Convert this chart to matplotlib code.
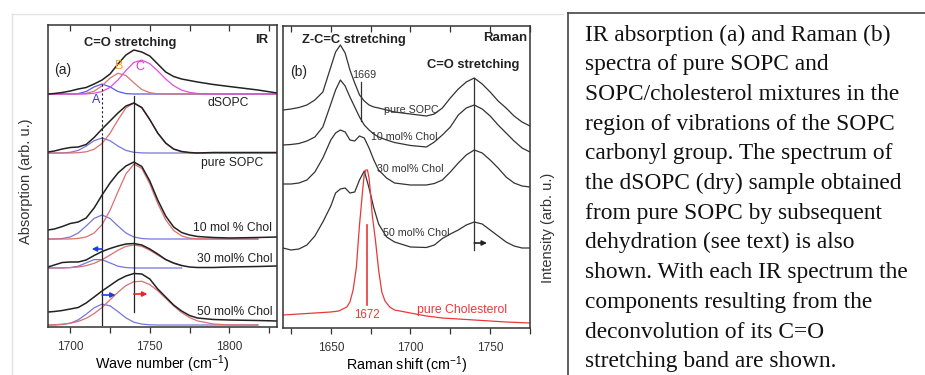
import numpy as np
import matplotlib.pyplot as plt
from matplotlib.lines import Line2D
from matplotlib.ticker import MultipleLocator

plt.rcParams['font.family'] = ['Liberation Sans', 'DejaVu Sans']
plt.rcParams['mathtext.fontset'] = 'custom'
plt.rcParams['mathtext.rm'] = 'Liberation Sans'

nan = np.nan

# ---- IR absorption (panel a): wavenumbers and band heights above each trace's baseline
ir_wn = [1686, 1690, 1695, 1700, 1705, 1710, 1715, 1720, 1725, 1730, 1735, 1740,
         1745, 1750, 1755, 1760, 1765, 1770, 1775, 1780, 1790, 1800, 1818, 1830]

ir_dsopc = [0, 0.5, 1.5, 3, 5, 6.5, 10, 14, 20, 30, 39, 44,
            42, 38, 30, 22, 17.5, 15, 13.5, 12, 9.5, 7.5, 4, 1]
dsopc_a = [0, 0, 0, 0, 0.4, 2.5, 7.1, 10, 7.1, 2.5, 0.4, 0,
           0, 0, 0, 0, 0, 0, 0, 0, 0, 0, 0, 0]
dsopc_b = [0, 0, 0, 0, 0, 0.7, 2.8, 8.2, 15.9, 20.8, 18.5, 11.2,
           4.5, 1.3, 0.2, 0, 0, 0, 0, 0, 0, 0, 0, 0]
dsopc_c = [0, 0, 0, 0, 0, 0, 0.75, 2.5, 6.6, 14, 23.5, 31.6,
           33.9, 30.3, 23.1, 15, 8.3, 3.9, 1.6, 0.5, 0, 0, 0, 0]

ir_pure = [1, 2, 4, 5.5, 6, 8.5, 15.5, 24, 32, 40, 47, 50,
           45.5, 33.5, 20, 10, 4, 1.5, 0.5, 0, 0.5, 0.5, 0.5, 0.5]
pure_red = [0, 0, 0, 0, 0.3, 1.2, 3.8, 9.6, 19.7, 33.1, 45.1, 50,
            45.1, 33.1, 19.7, 9.6, 3.8, 1.2, 0.3, 0, 0, 0, 0, 0]
pure_blue = [0, 0, 0.1, 0.7, 2.6, 6.9, 12.3, 15, 12.3, 6.9, 2.6, 0.7,
             0.1, 0, 0, 0, 0, 0, 0, 0, 0, 0, 0, 0]

ir_chol10 = [9, 10, 12.5, 15.5, 17, 21, 31, 44, 56, 66, 73, 77,
             72.5, 58, 39, 23, 12, 6.5, 4, 2.5, 1.5, 1, 1.5, 2]
chol10_red = [0, 0, 0, 0, 0.6, 2.0, 6, 14.3, 28.7, 47.3, 65.1, 74.9,
              70.5, 55.2, 35.6, 19.2, 8.5, 3.1, 0.9, 0.2, 0, 0, 0, nan]
chol10_blue = [0, 0, 0.5, 2, 6, 13, 20.6, 24, 20.6, 13, 6, 2,
               0.5, 0, 0, 0, 0, 0, 0, 0, 0, 0, 0, nan]

ir_chol30 = [1, 3, 5.5, 6, 6, 8, 12.5, 16.5, 19.5, 22, 24, 24.5,
             23, 19, 14, 8.5, 5, 2.5, 1, 0.5, 0.5, 1, 1.5, 2]
chol30_red = [0, 0.1, 0.2, 0.4, 1, 2.3, 4.7, 8.3, 12.9, 17.8, 21.6, 23,
              21.6, 17.8, 12.9, 8.3, 4.7, 2.3, nan, nan, nan, nan, nan, nan]
chol30_blue = [0, 0, 0, 0.4, 1.8, 5.1, 8.4, 8.4, 5.1, 1.8, 0.4, 0,
               0, 0, 0, 0, 0, 0, nan, nan, nan, nan, nan, nan]

ir_chol50 = [13, 13.5, 14.5, 16, 17.5, 22, 28, 34, 39.5, 45, 49, 51.5,
             51, 46, 36, 28, 20, 14, 9.5, 7, 5.5, 5, 4.5, 4]
chol50_red = [0, 0.3, 0.8, 1.8, 3.6, 6.7, 11.4, 17.6, 25.1, 32.8, 39.4, 43.3,
              43.7, 40.4, 34.3, 26.7, 19.1, 12.4, 7.5, 4.1, 1, 0.1, 0, nan]
chol50_blue = [0, 0, 0.5, 1.8, 5.1, 10.8, 17.2, 20.9, 19.2, 13.4, 7.1, 2.8,
               0.9, 0.2, 0, 0, 0, 0, 0, 0, 0, 0, 0, nan]

ir_offsets = [233, 174, 88, 59, 2]
ir_labels = ['dSOPC', 'pure SOPC', '10 mol % Chol', '30 mol% Chol', '50 mol% Chol']

# ---- Raman (panel b)
raman_wn = [1620, 1625, 1630, 1635, 1640, 1645, 1650, 1653, 1656, 1659, 1662, 1665,
            1668, 1671, 1674, 1677, 1680, 1685, 1690, 1700, 1710, 1715, 1720, 1725,
            1730, 1735, 1740, 1745, 1750, 1755, 1760, 1765, 1770, 1775]
raman_sopc = [18, 19, 20.5, 23, 28, 36, 61, 76, 83, 75, 58, 45,
              33, 27, 23, 21, 20, 18, 16, 14, 12, 14, 20, 30,
              39, 46, 50, 44, 36, 27, 20, 12, 6, 2]
raman_chol10 = [23, 23.5, 24.5, 27, 31, 41, 64, 78, 88, 82, 71, 61,
                51, 43, 38, 34, 31, 28, 25.5, 22.5, 21, 26, 33, 41,
                53, 60, 63, 59, 52, 43, 35, 27, 20, 16]
raman_chol30 = [14, 14, 15, 18, 26, 40, 58, 65, 68, 66, 58, 57,
                62, 60, 50, 38, 28, 20, 15, 13, 13, 14.5, 18, 26,
                35, 43, 48, 45, 38, 30, 21, 15, 12, 11]
raman_chol50 = [10, 8, 9, 13, 22, 36, 52, 65, 69, 70, 65, 66,
                78, 87, 70, 50, 34, 21, 16, 11, 10.5, 13, 19.5, 24,
                28, 33, 36, 34, 28, 22, 16, 12, 10, 10]
raman_offsets = [200, 160, 130, 70]
raman_labels = ['pure SOPC', '10 mol% Chol', '30 mol% Chol', '50 mol% Chol']

chol_wn = [1620, 1630, 1640, 1650, 1655, 1660, 1662, 1664, 1666, 1668, 1670, 1671,
           1672, 1673, 1674, 1675, 1676, 1678, 1680, 1682, 1684, 1687, 1690, 1700,
           1710, 1720, 1730, 1740, 1750, 1760, 1775]
chol_pure = [13, 14, 15, 16, 17, 21, 26, 38, 60, 103, 138, 154,
             158, 158, 150, 133, 113, 88, 58, 36, 27, 21, 18, 15,
             12, 10, 9, 8, 7, 6, 5]

black = '#222222'
red_c = '#dc6f72'
blue_c = '#7676dc'

fig = plt.figure(figsize=(9.25, 3.75), dpi=100)
ax1 = fig.add_axes([48 / 925, 1 - 327 / 375, 229 / 925, 302 / 375])
ax2 = fig.add_axes([283 / 925, 1 - 328 / 375, 247 / 925, 302 / 375])

x = np.array(ir_wn)


def shifted(vals, off):
    return np.array(vals, dtype=float) + off


# panel (a)
o = ir_offsets
ax1.plot(x, shifted(dsopc_a, o[0]), color='#5a5ae6', lw=0.9)
ax1.plot(x, shifted(dsopc_b, o[0]), color='#d27a6e', lw=0.9)
ax1.plot(x, shifted(dsopc_c, o[0]), color='#e24ee2', lw=0.9)
ax1.plot(x, shifted(ir_dsopc, o[0]), color=black, lw=1.1)

for blk, red, blue, off in [(ir_pure, pure_red, pure_blue, o[1]),
                            (ir_chol10, chol10_red, chol10_blue, o[2]),
                            (ir_chol30, chol30_red, chol30_blue, o[3]),
                            (ir_chol50, chol50_red, chol50_blue, o[4])]:
    ax1.plot(x, shifted(blue, off), color=blue_c, lw=0.9)
    ax1.plot(x, shifted(red, off), color=red_c, lw=0.9)
    ax1.plot(x, shifted(blk, off), color=black, lw=1.1)

# guide lines
ax1.plot([1720, 1720], [243, 192], color=black, lw=0.8, ls=(0, (2, 2)))
ax1.plot([1720, 1720], [190, 2], color=black, lw=0.9)
ax1.plot([1740, 1740], [231, 15], color=black, lw=0.9)

arrow = dict(arrowstyle='-|>', lw=1.2, mutation_scale=7, shrinkA=0, shrinkB=0)
ax1.annotate('', xy=(1713.5, 78), xytext=(1720, 78), arrowprops=dict(arrow, color='#1f3fd8'))
ax1.annotate('', xy=(1728.5, 32), xytext=(1720, 32), arrowprops=dict(arrow, color='#1f3fd8'))
ax1.annotate('', xy=(1748.5, 33), xytext=(1740, 33), arrowprops=dict(arrow, color='#ee2222'))

lab_fs = 8.7
ax1.text(1799.4, 224, ir_labels[0], ha='center', va='center', fontsize=lab_fs, color=black)
ax1.text(1821.4, 164, ir_labels[1], ha='right', va='center', fontsize=lab_fs, color=black)
ax1.text(1827, 99, ir_labels[2], ha='right', va='center', fontsize=lab_fs, color=black)
ax1.text(1827, 68, ir_labels[3], ha='right', va='center', fontsize=lab_fs, color=black)
ax1.text(1827, 15, ir_labels[4], ha='right', va='center', fontsize=lab_fs, color=black)

ax1.text(1695, 257, '(a)', ha='center', va='center', fontsize=10, color=black)
ax1.text(1737.7, 284, 'C=O stretching', ha='center', va='center', fontsize=9.3,
         fontweight='bold', color=black)
ax1.text(1824.5, 287, 'IR', ha='right', va='center', fontsize=9.5, fontweight='bold', color=black)
ax1.text(1716.4, 227, 'A', ha='center', va='center', fontsize=9, color='#3333cc')
ax1.text(1731, 261, 'B', ha='center', va='center', fontsize=9, color='#f0a040')
ax1.text(1744, 260, 'C', ha='center', va='center', fontsize=9, color='#e030e0')

ax1.set_xlim(1686, 1830)
ax1.set_ylim(0, 302)
ax1.set_xticks([1700, 1750, 1800])
ax1.set_xlabel('Wave number (cm$^{-1}$)', fontsize=10.3, labelpad=0.5)

# panel (b)
rx = np.array(raman_wn)
for vals, off in zip([raman_sopc, raman_chol10, raman_chol30, raman_chol50], raman_offsets):
    ax2.plot(rx, shifted(vals, off), color='#333333', lw=0.9)
ax2.plot(chol_wn, chol_pure, color='#e8393a', lw=0.9)

ax2.plot([1669, 1669], [246, 207], color='#333333', lw=0.9)
ax2.text(1663.5, 253, '1669', ha='left', va='center', fontsize=7.8, color='#333333')
ax2.plot([1740, 1740], [250, 78], color='#333333', lw=0.9)
ax2.annotate('', xy=(1748, 85), xytext=(1740, 85), arrowprops=dict(arrow, color='#222222'))
ax2.plot([1673, 1673], [103, 23], color='#e8393a', lw=1.2)
ax2.text(1673, 13, '1672', ha='center', va='center', fontsize=8.3, color='#e8393a')
ax2.text(1732.4, 18, 'pure Cholesterol', ha='center', va='center', fontsize=8.8, color='#e8393a')

r_fs = 7.7
ax2.text(1700.3, 218, raman_labels[0], ha='center', va='center', fontsize=r_fs, color='#333333')
ax2.text(1696, 191, raman_labels[1], ha='center', va='center', fontsize=r_fs, color='#333333')
ax2.text(1699.7, 159, raman_labels[2], ha='center', va='center', fontsize=r_fs, color='#333333')
ax2.text(1703.5, 95, raman_labels[3], ha='center', va='center', fontsize=r_fs, color='#333333')

ax2.text(1630, 256, '(b)', ha='center', va='center', fontsize=10, color=black)
ax2.text(1664.5, 288, 'Z-C=C stretching', ha='center', va='center', fontsize=9.3,
         fontweight='bold', color=black)
ax2.text(1773.3, 290, 'Raman', ha='right', va='center', fontsize=9.5, fontweight='bold', color=black)
ax2.text(1739.3, 263, 'C=O stretching', ha='center', va='center', fontsize=9.3,
         fontweight='bold', color=black)

ax2.set_xlim(1620, 1775)
ax2.set_ylim(0, 302)
ax2.set_xticks([1650, 1700, 1750])
ax2.set_xlabel('Raman shift (cm$^{-1}$)', fontsize=10.3, labelpad=0.5)

for ax in (ax1, ax2):
    ax.set_yticks([])
    ax.xaxis.set_minor_locator(MultipleLocator(25))
    ax.tick_params(axis='x', which='both', direction='out', length=4, width=0.9,
                   labelsize=8.5, colors='#333333', pad=6)
    for sp in ax.spines.values():
        sp.set_color('#333333')
        sp.set_linewidth(1.1)
    top = ax.secondary_xaxis('top')
    top.xaxis.set_major_locator(MultipleLocator(25))
    top.tick_params(direction='in', length=4, width=0.9, labeltop=False, colors='#333333')
    top.spines['top'].set_visible(False)

fig.text(26 / 925, 1 - 181 / 375, 'Absorption (arb. u.)', rotation=90, ha='center',
         va='center', fontsize=10.5, color='#333333')
fig.text(548 / 925, 1 - 228 / 375, 'Intensity (arb. u.)', rotation=90, ha='center',
         va='center', fontsize=10.5, color='#333333')

# frames
fig.add_artist(Line2D([12 / 925, 12 / 925], [0, 1 - 14 / 375], transform=fig.transFigure,
                      color='#e4e4e4', lw=1))
fig.add_artist(Line2D([12 / 925, 563 / 925], [1 - 14 / 375, 1 - 14 / 375],
                      transform=fig.transFigure, color='#e4e4e4', lw=1))
fig.add_artist(Line2D([568 / 925, 568 / 925], [0, 1 - 13 / 375], transform=fig.transFigure,
                      color='#444444', lw=1.2))
fig.add_artist(Line2D([568 / 925, 1], [1 - 13 / 375, 1 - 13 / 375], transform=fig.transFigure,
                      color='#444444', lw=1.2))

caption = [
    'IR absorption (a) and Raman (b)',
    'spectra of pure SOPC and',
    'SOPC/cholesterol mixtures in the',
    'region of vibrations of the SOPC',
    'carbonyl group. The spectrum of',
    'the dSOPC (dry) sample obtained',
    'from pure SOPC by subsequent',
    'dehydration (see text) is also',
    'shown. With each IR spectrum the',
    'components resulting from the',
    'deconvolution of its C=O',
    'stretching band are shown.',
]
for i, line in enumerate(caption):
    fig.text(585 / 925, 1 - (35 + i * 29.7) / 375, line, ha='left', va='center',
             fontsize=16.8, color='#111111', family=['Liberation Serif', 'DejaVu Serif'])

fig.savefig('out.png', dpi=100)
